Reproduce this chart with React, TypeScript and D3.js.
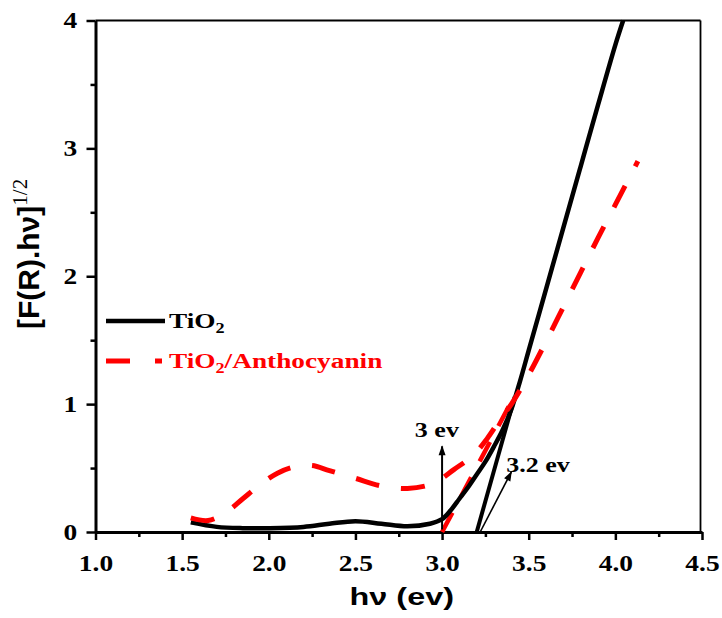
import React, { useEffect, useRef } from 'react';
import * as d3 from 'd3';

// TiO2 curve
const tio2Hv = [1.55, 1.7, 1.85, 2.0, 2.2, 2.35, 2.5, 2.65, 2.8, 2.93, 3.0, 3.05, 3.1, 3.15, 3.2, 3.25, 3.3, 3.35, 3.4, 3.45, 3.5, 3.6, 3.7, 3.8, 3.9, 4.0, 4.045];
const tio2Val = [0.075, 0.04, 0.03, 0.03, 0.04, 0.065, 0.085, 0.065, 0.045, 0.065, 0.1, 0.17, 0.26, 0.35, 0.45, 0.55, 0.67, 0.8, 0.96, 1.18, 1.42, 1.9, 2.38, 2.86, 3.34, 3.81, 4.0];

// TiO2/Anthocyanin curve
const anthoHv = [1.55, 1.65, 1.75, 1.85, 1.95, 2.05, 2.15, 2.25, 2.35, 2.5, 2.65, 2.8, 2.95, 3.07, 3.18, 3.26, 3.34, 3.4, 3.5, 3.6, 3.7, 3.8, 3.9, 4.0, 4.13];
const anthoVal = [0.11, 0.09, 0.15, 0.26, 0.37, 0.46, 0.51, 0.52, 0.48, 0.42, 0.36, 0.34, 0.38, 0.49, 0.6, 0.73, 0.89, 1.0, 1.23, 1.49, 1.76, 2.03, 2.3, 2.56, 2.9];

// band gap tangents
const tio2TangentHv = [3.2, 3.42];
const tio2TangentVal = [0, 1.06];
const anthoTangentHv = [3.0, 3.42];
const anthoTangentVal = [0, 1.07];

const xTicks = [1.0, 1.5, 2.0, 2.5, 3.0, 3.5, 4.0, 4.5];
const yTicks = [0, 1, 2, 3, 4];

const App = () => {
  const ref = useRef(null);

  useEffect(() => {
    const width = 722;
    const height = 618;
    const left = 95.5;
    const right = 702;
    const top = 20.5;
    const bottom = 532;
    const stretch = 'scale(1.3,1)'; // the reference glyphs are wide

    const svg = d3.select(ref.current);
    svg.selectAll('*').remove();
    svg.attr('width', width).attr('height', height);

    const x = d3.scaleLinear().domain([1.0, 4.5]).range([left, right]);
    const y = d3.scaleLinear().domain([0, 4]).range([bottom, top]);

    const serif = "'Liberation Serif', 'Times New Roman', serif";
    const sans = "'Liberation Sans', Arial, sans-serif";

    // arrowhead marker
    const defs = svg.append('defs');
    defs.append('marker')
      .attr('id', 'head')
      .attr('viewBox', '0 0 10 10')
      .attr('refX', 9)
      .attr('refY', 5)
      .attr('markerUnits', 'userSpaceOnUse')
      .attr('markerWidth', 12)
      .attr('markerHeight', 10)
      .attr('orient', 'auto')
      .append('path')
      .attr('d', 'M0,1.5 L10,5 L0,8.5 Z')
      .attr('fill', '#000');

    // frame top/right
    svg.append('line')
      .attr('x1', left).attr('x2', right - 1.5)
      .attr('y1', top).attr('y2', top)
      .attr('stroke', '#000').attr('stroke-width', 1.8);
    svg.append('line')
      .attr('x1', right - 1.5).attr('x2', right - 1.5)
      .attr('y1', top).attr('y2', bottom)
      .attr('stroke', '#000').attr('stroke-width', 1.8);

    // x axis
    const xAxis = svg.append('g')
      .attr('transform', `translate(0,${bottom})`)
      .call(d3.axisBottom(x).tickValues(xTicks).tickSize(8).tickSizeOuter(0).tickFormat(d3.format('.1f')));
    xAxis.select('.domain').attr('stroke-width', 3);
    xAxis.selectAll('.tick line').attr('stroke-width', 2.5);
    xAxis.selectAll('text')
      .attr('y', 39)
      .attr('dy', 0)
      .attr('transform', 'scale(1.22,1)')
      .attr('font-family', serif)
      .attr('font-weight', 'bold')
      .attr('font-size', 22.5)
      .attr('fill', '#000');
    svg.append('g')
      .attr('transform', `translate(0,${bottom})`)
      .call(d3.axisBottom(x).tickValues(d3.range(1.25, 4.5, 0.5)).tickSize(5).tickFormat(() => ''))
      .call(g => g.select('.domain').remove())
      .selectAll('line').attr('stroke-width', 2.5);

    // y axis
    const yAxis = svg.append('g')
      .attr('transform', `translate(${left},0)`)
      .call(d3.axisLeft(y).tickValues(yTicks).tickSize(9).tickSizeOuter(0).tickFormat(d3.format('d')));
    yAxis.select('.domain').attr('stroke-width', 3);
    yAxis.selectAll('.tick line').attr('stroke-width', 2.5);
    yAxis.selectAll('text')
      .attr('x', -15)
      .attr('dy', '0.33em')
      .attr('transform', 'scale(1.22,1)')
      .attr('font-family', serif)
      .attr('font-weight', 'bold')
      .attr('font-size', 22.5)
      .attr('fill', '#000');
    svg.append('g')
      .attr('transform', `translate(${left},0)`)
      .call(d3.axisLeft(y).tickValues([0.5, 1.5, 2.5, 3.5]).tickSize(5).tickFormat(() => ''))
      .call(g => g.select('.domain').remove())
      .selectAll('line').attr('stroke-width', 2.5);

    // axis titles
    svg.append('text')
      .attr('transform', `translate(${(left + right) / 2 + 3},605) scale(1.35,1)`)
      .attr('text-anchor', 'middle')
      .attr('font-family', sans)
      .attr('font-weight', 'bold')
      .attr('font-size', 24)
      .text('hν (ev)');

    const yt = svg.append('text')
      .attr('transform', 'translate(39,329) rotate(-90)')
      .attr('font-family', sans)
      .attr('font-weight', 'bold')
      .attr('font-size', 30);
    yt.append('tspan').text('[F(R).hν]');
    yt.append('tspan')
      .attr('dy', -12)
      .attr('font-family', serif)
      .attr('font-weight', 'normal')
      .attr('font-size', 21)
      .text('1/2');

    const line = d3.line<[number, number]>()
      .x(d => x(d[0]))
      .y(d => y(d[1]))
      .curve(d3.curveCatmullRom.alpha(0.5));
    const straight = d3.line<[number, number]>()
      .x(d => x(d[0]))
      .y(d => y(d[1]));

    // tangents
    svg.append('path')
      .attr('d', straight(d3.zip(tio2TangentHv, tio2TangentVal) as [number, number][]))
      .attr('fill', 'none').attr('stroke', '#000').attr('stroke-width', 4);
    svg.append('path')
      .attr('d', straight(d3.zip(anthoTangentHv, anthoTangentVal) as [number, number][]))
      .attr('fill', 'none').attr('stroke', '#ff0000').attr('stroke-width', 4.5)
      .attr('stroke-dasharray', '22,18');

    // curves
    svg.append('path')
      .attr('d', line(d3.zip(tio2Hv, tio2Val) as [number, number][]))
      .attr('fill', 'none').attr('stroke', '#000').attr('stroke-width', 4.5);
    svg.append('path')
      .attr('d', line(d3.zip(anthoHv, anthoVal) as [number, number][]))
      .attr('fill', 'none').attr('stroke', '#ff0000').attr('stroke-width', 5)
      .attr('stroke-dasharray', '24,22');

    // annotations
    svg.append('line')
      .attr('x1', x(3.0)).attr('y1', y(0.02))
      .attr('x2', x(3.0)).attr('y2', y(0.67))
      .attr('stroke', '#000').attr('stroke-width', 2)
      .attr('marker-end', 'url(#head)');
    svg.append('line')
      .attr('x1', x(3.22)).attr('y1', y(0))
      .attr('x2', x(3.4)).attr('y2', y(0.47))
      .attr('stroke', '#000').attr('stroke-width', 1.6)
      .attr('marker-end', 'url(#head)');
    svg.append('text')
      .attr('transform', `translate(${x(2.97)},${y(0.74)}) ${stretch}`)
      .attr('text-anchor', 'middle')
      .attr('font-family', serif).attr('font-weight', 'bold').attr('font-size', 20)
      .text('3 ev');
    svg.append('text')
      .attr('transform', `translate(${x(3.37)},${y(0.47)}) ${stretch}`)
      .attr('font-family', serif).attr('font-weight', 'bold').attr('font-size', 20)
      .text('3.2 ev');

    // legend
    const legend = svg.append('g');
    legend.append('line')
      .attr('x1', 106).attr('x2', 165).attr('y1', 321).attr('y2', 321)
      .attr('stroke', '#000').attr('stroke-width', 4.5);
    const l1 = legend.append('text')
      .attr('transform', `translate(169,328) ${stretch}`)
      .attr('font-family', serif).attr('font-weight', 'bold').attr('font-size', 21);
    l1.append('tspan').text('TiO');
    l1.append('tspan').attr('dy', 5).attr('font-size', 14).text('2');

    legend.append('line')
      .attr('x1', 106).attr('x2', 162).attr('y1', 361).attr('y2', 361)
      .attr('stroke', '#ff0000').attr('stroke-width', 5)
      .attr('stroke-dasharray', '24,25');
    const l2 = legend.append('text')
      .attr('transform', `translate(169,368) ${stretch}`)
      .attr('fill', '#ff0000')
      .attr('font-family', serif).attr('font-weight', 'bold').attr('font-size', 21);
    l2.append('tspan').text('TiO');
    l2.append('tspan').attr('dy', 5).attr('font-size', 14).text('2');
    l2.append('tspan').attr('dy', -5).text('/Anthocyanin');
  }, []);

  return (
    <svg ref={ref} style={{ position: 'absolute', left: 0, top: 0, background: '#fff' }} />
  );
};

export default App;
